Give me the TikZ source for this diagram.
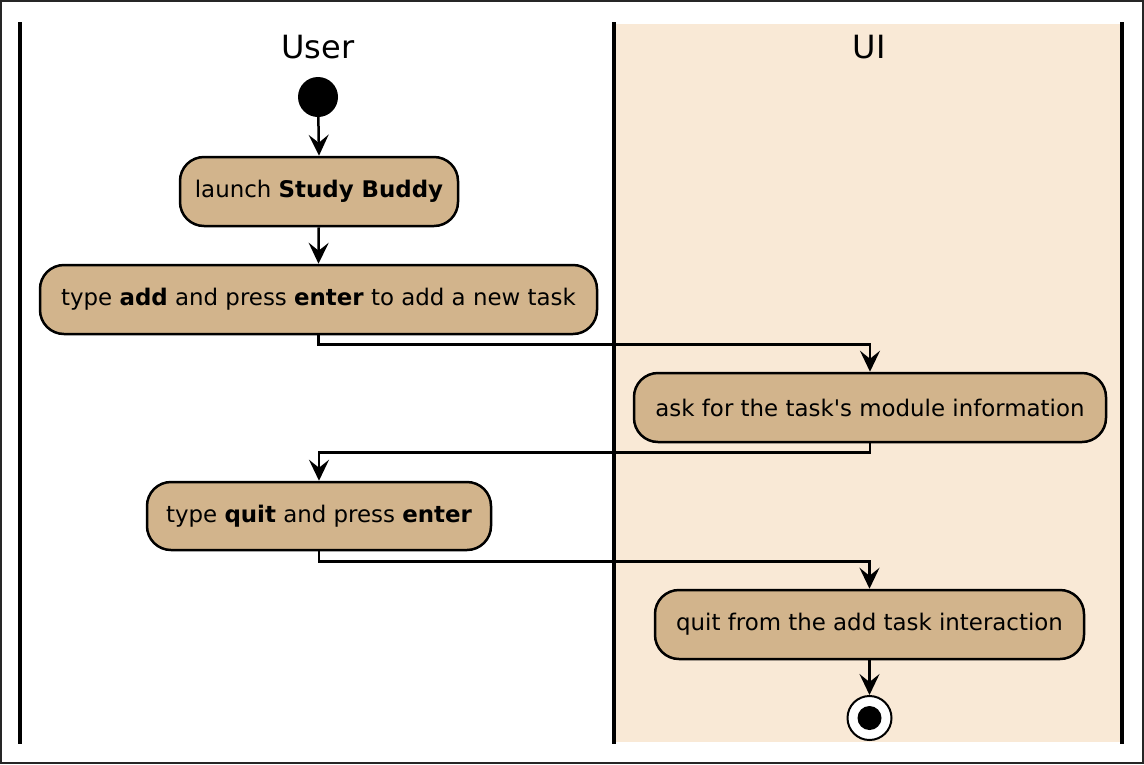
\documentclass[tikz,border=0pt]{standalone}
\usepackage{fontspec}
\setmainfont{DejaVu Sans}
\usetikzlibrary{arrows.meta}
\definecolor{boxfill}{RGB}{210,180,140}
\definecolor{lanefill}{RGB}{249,233,214}
\newcommand\straightquote{\XeTeXglyph\XeTeXcharglyph"0027\relax}
\begin{document}
\begin{tikzpicture}[x=1pt,y=-1pt,
  act/.style={draw=black,line width=2.5pt,fill=boxfill,rounded corners=24pt,inner sep=0pt,minimum height=69pt,font=\fontsize{22.9}{27}\selectfont},
  arr/.style={line width=2.5pt,-{Stealth[length=21pt,width=20pt,inset=8pt]}},
  lane/.style={line width=3.5pt},
  title/.style={font=\fontsize{32}{38}\selectfont}]
\useasboundingbox (0,0) rectangle (1144,764);
\fill[white] (0,0) rectangle (1144,764);
\fill[lanefill] (616,24) rectangle (1120,742);
\draw[line width=2pt,draw=black!85] (1,1) rectangle (1143,763);
\draw[lane] (20,22) -- (20,744);
\draw[lane] (614,22) -- (614,744);
\draw[lane] (1122,22) -- (1122,744);
\node[title] (tuser) at (318,47) {User};
\node[title] (tui) at (869,47) {UI};
\node[circle,fill=black,minimum size=40pt,inner sep=0pt] (start) at (318,97) {};
\node[act,minimum width=278pt] (launch) at (319,191.5) {launch \textbf{Study Buddy}};
\node[act,minimum width=557pt] (typeadd) at (318.5,299.5) {type \textbf{add} and press \textbf{enter} to add a new task};
\node[act,minimum width=472pt] (ask) at (870,407.5) {ask for the task\straightquote s module information};
\node[act,minimum width=344pt,minimum height=68pt] (typequit) at (319,516) {type \textbf{quit} and press \textbf{enter}};
\node[act,minimum width=429pt] (quitfrom) at (869.5,624.5) {quit from the add task interaction};
\node[circle,draw=black,line width=2pt,fill=white,minimum size=44pt,inner sep=0pt] (end) at (869.5,718) {};
\node[circle,fill=black,minimum size=24pt,inner sep=0pt] (endin) at (end.center) {};
\draw[arr] (start) -- (launch.north);
\draw[arr] (launch) -- (typeadd.north);
\draw[arr] (typeadd.south) -- ++(0,9) -| (ask.north);
\draw[arr] (ask.south) -- ++(0,9) -| (typequit.north);
\draw[arr] (typequit.south) -- ++(0,10) -| (quitfrom.north);
\draw[arr] (quitfrom) -- (end.north);
\end{tikzpicture}
\end{document}
